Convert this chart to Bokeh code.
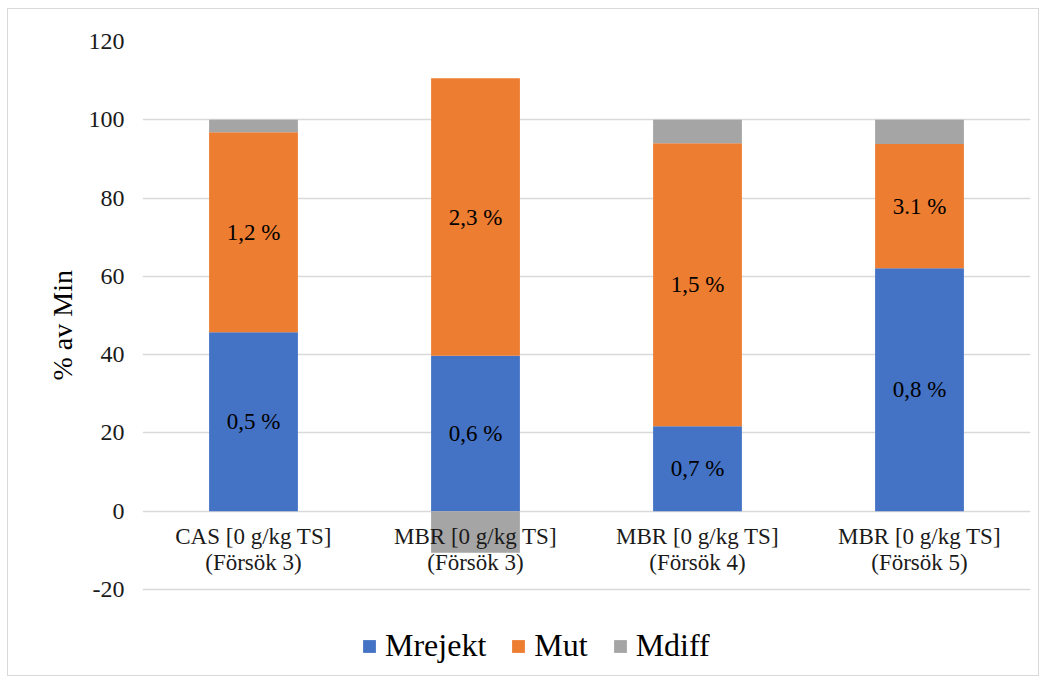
from bokeh.plotting import figure
from bokeh.models import ColumnDataSource, FixedTicker, Legend, LegendItem, PrintfTickFormatter, Title
from bokeh.core.properties import value
from bokeh.embed import file_html
from bokeh.resources import INLINE

# Data
categories = ["CAS [0 g/kg TS]\n(Försök 3)", "MBR [0 g/kg TS]\n(Försök 3)",
              "MBR [0 g/kg TS]\n(Försök 4)", "MBR [0 g/kg TS]\n(Försök 5)"]
mrejekt = [45.7, 39.7, 21.7, 62.1]
mut = [51.1, 70.9, 72.3, 31.7]
mdiff = [3.2, -10.6, 6.0, 6.2]
mrejekt_labels = ["0,5 %", "0,6 %", "0,7 %", "0,8 %"]
mut_labels = ["1,2 %", "2,3 %", "1,5 %", "3.1 %"]
y_ticks = [-20, 0, 20, 40, 60, 80, 100, 120]

series_names = ["Mrejekt", "Mut", "Mdiff"]
series_values = [mrejekt, mut, mdiff]
colors = ["#4472C4", "#ED7D31", "#A5A5A5"]
FONT = "'Liberation Serif', 'Times New Roman', serif"

# Stack positives upward and negatives downward from zero
pos_base = [0.0] * len(categories)
neg_base = [0.0] * len(categories)
stacks = []
for vals in series_values:
    bottoms, tops = [], []
    for i, v in enumerate(vals):
        if v >= 0:
            bottoms.append(pos_base[i]); tops.append(pos_base[i] + v)
            pos_base[i] += v
        else:
            tops.append(neg_base[i]); bottoms.append(neg_base[i] + v)
            neg_base[i] += v
    stacks.append((bottoms, tops))

# The frame reaches below the lowest tick so the legend can sit inside it
p = figure(x_range=categories, y_range=(-41.2, 120), width=1032, height=668,
           output_backend="svg", toolbar_location=None,
           min_border_left=134, min_border_right=10, min_border_top=32,
           min_border_bottom=5)
p.styles = {"margin": "8px 0 0 7px", "border": "1px solid #D9D9D9"}
p.outline_line_color = None
p.background_fill_color = "white"
p.border_fill_color = "white"

items = []
for name, (b, t), c in zip(series_names, stacks, colors):
    src = ColumnDataSource(dict(x=categories, bottom=b, top=t))
    r = p.vbar(x="x", bottom="bottom", top="top", width=0.4, source=src,
               fill_color=c, line_color=None)
    items.append(LegendItem(label=name, renderers=[r]))

# Segment labels, centred in their segments
for (b, t), labels in zip(stacks[:2], [mrejekt_labels, mut_labels]):
    mids = [(bb + tt) / 2 for bb, tt in zip(b, t)]
    src = ColumnDataSource(dict(x=categories, y=mids, text=labels))
    p.text(x="x", y="y", text="text", source=src, text_align="center",
           text_baseline="middle", text_font=value(FONT),
           text_font_size="23px", text_color="black")

# Category labels sit just under the zero line
cat_src = ColumnDataSource(dict(x=categories, y=[0] * len(categories), text=categories))
p.text(x="x", y="y", text="text", source=cat_src, text_align="center",
       text_baseline="top", y_offset=13, text_font=value(FONT),
       text_font_size="23px", text_color="#1a1a1a", text_line_height=1.05)

p.xaxis.visible = False
p.xgrid.grid_line_color = None
p.ygrid.grid_line_color = "#D9D9D9"
p.ygrid.grid_line_width = 1.3
p.yaxis.ticker = FixedTicker(ticks=y_ticks)
p.yaxis.formatter = PrintfTickFormatter(format="%d")
p.yaxis.axis_line_color = None
p.yaxis.major_tick_line_color = None
p.yaxis.minor_tick_line_color = None
p.yaxis.major_label_standoff = 12
p.yaxis.major_label_text_font = FONT
p.yaxis.major_label_text_font_size = "24px"
p.yaxis.major_label_text_color = "#1a1a1a"

# Y-axis title, placed along the -20..120 span
ytitle = Title(text="% av Min", align="left", offset=292, standoff=15,
               text_font=FONT, text_font_size="28px", text_font_style="normal",
               text_color="black")
p.add_layout(ytitle, "left")

legend = Legend(items=items, orientation="horizontal", location=(219, 8),
                glyph_width=16, glyph_height=16, label_standoff=8, spacing=24,
                label_text_font=FONT, label_text_font_size="32px",
                label_text_color="black", border_line_color=None,
                background_fill_alpha=0, margin=0, padding=4)
p.add_layout(legend)

open("out.html", "w").write(file_html(p, INLINE))
